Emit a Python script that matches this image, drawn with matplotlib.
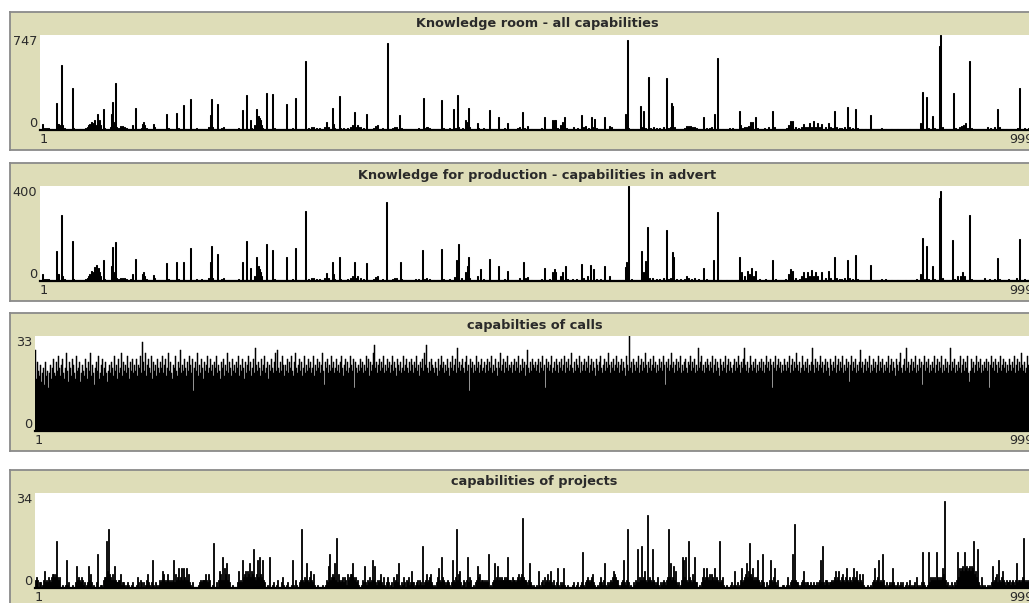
import numpy as np
import matplotlib.pyplot as plt

W, H = 1029, 603
N_BINS = 999

titles = [
    "Knowledge room - all capabilities",
    "Knowledge for production - capabilities in advert",
    "capabilties of calls",
    "capabilities of projects",
]
y_max = [747, 400, 33, 34]

# (capability, count) - only non-empty bins are listed
room_counts = [
    (3, 48), (5, 16), (7, 16), (9, 16), (12, 8), (17, 209), (18, 50), (19, 50), (20, 40), (22, 509),
    (23, 40), (25, 16), (33, 329), (34, 16), (40, 8), (42, 8), (44, 8), (46, 16), (48, 24), (49, 40),
    (50, 48), (52, 60), (53, 56), (55, 80), (57, 40), (58, 123), (59, 60), (60, 80), (61, 40), (64, 163),
    (65, 16), (71, 24), (72, 123), (73, 222), (74, 60), (76, 369), (77, 24), (79, 16), (81, 30), (83, 30),
    (85, 24), (87, 16), (89, 8), (93, 40), (96, 174), (98, 8), (103, 16), (104, 48), (105, 60), (106, 40),
    (108, 16), (115, 48), (116, 24), (118, 8), (128, 128), (130, 16), (133, 8), (138, 134), (140, 16), (145, 193),
    (147, 8), (152, 241), (154, 8), (158, 16), (161, 8), (163, 8), (166, 8), (170, 24), (172, 115), (173, 241),
    (174, 24), (176, 8), (179, 201), (180, 8), (183, 16), (185, 24), (187, 8), (190, 8), (195, 8), (200, 16),
    (204, 155), (206, 8), (208, 276), (209, 8), (212, 80), (213, 16), (216, 40), (218, 163), (219, 60), (220, 107),
    (221, 96), (222, 80), (223, 40), (224, 16), (228, 294), (230, 8), (234, 284), (236, 16), (240, 8), (245, 8),
    (248, 201), (249, 8), (251, 8), (254, 16), (257, 249), (258, 8), (263, 8), (267, 543), (270, 16), (273, 24),
    (275, 24), (278, 16), (281, 16), (286, 24), (288, 62), (290, 24), (294, 174), (295, 48), (296, 16), (300, 8),
    (302, 265), (303, 16), (306, 16), (310, 16), (313, 24), (315, 40), (317, 139), (318, 24), (320, 40), (321, 24),
    (323, 24), (326, 16), (329, 126), (331, 8), (336, 16), (338, 32), (340, 40), (343, 8), (345, 16), (347, 8),
    (350, 688), (352, 8), (355, 16), (357, 24), (359, 24), (362, 120), (364, 16), (368, 8), (373, 8), (378, 8),
    (381, 16), (386, 249), (387, 16), (389, 24), (390, 24), (392, 16), (396, 8), (400, 8), (404, 233), (406, 16),
    (408, 8), (412, 16), (416, 169), (418, 16), (420, 276), (421, 24), (425, 16), (428, 80), (430, 60), (431, 174),
    (432, 24), (437, 8), (440, 54), (441, 16), (446, 16), (448, 8), (452, 155), (454, 8), (458, 8), (461, 102),
    (463, 8), (467, 16), (470, 54), (471, 8), (476, 8), (480, 16), (482, 24), (485, 139), (487, 16), (490, 35),
    (494, 8), (500, 8), (505, 16), (508, 102), (510, 8), (513, 8), (516, 75), (518, 80), (519, 80), (521, 16),
    (524, 40), (526, 60), (528, 99), (530, 16), (533, 8), (537, 24), (541, 16), (545, 120), (547, 24), (549, 35),
    (552, 16), (555, 102), (556, 24), (558, 86), (560, 16), (564, 8), (568, 99), (570, 8), (573, 35), (575, 24),
    (577, 8), (582, 8), (586, 8), (589, 126), (590, 120), (591, 707), (592, 16), (596, 8), (601, 8), (604, 185),
    (605, 24), (607, 147), (609, 16), (612, 418), (614, 16), (617, 24), (620, 16), (623, 16), (627, 24), (630, 407),
    (632, 16), (634, 24), (635, 214), (636, 187), (638, 24), (641, 8), (645, 8), (648, 16), (650, 32), (652, 35),
    (654, 32), (656, 24), (658, 24), (660, 16), (663, 8), (667, 99), (670, 16), (673, 16), (675, 24), (678, 126),
    (681, 567), (683, 8), (686, 8), (690, 8), (693, 16), (696, 16), (699, 8), (704, 147), (705, 40), (707, 16),
    (709, 24), (711, 24), (713, 30), (715, 62), (717, 62), (720, 99), (722, 16), (725, 8), (729, 16), (733, 24),
    (737, 147), (739, 24), (743, 8), (747, 8), (751, 16), (753, 40), (755, 72), (757, 72), (760, 24), (763, 16),
    (766, 24), (768, 46), (770, 24), (772, 24), (774, 54), (776, 24), (778, 67), (780, 24), (782, 54), (784, 24),
    (786, 46), (790, 24), (793, 54), (795, 24), (797, 16), (799, 147), (801, 24), (804, 16), (806, 16), (809, 24),
    (812, 182), (814, 24), (817, 16), (820, 166), (822, 16), (826, 8), (830, 8), (835, 120), (837, 8), (842, 8),
    (846, 16), (850, 8), (856, 8), (862, 8), (874, 8), (881, 8), (885, 54), (887, 300), (889, 8), (891, 260),
    (893, 16), (897, 107), (899, 16), (905, 661), (906, 747), (908, 24), (911, 8), (915, 8), (919, 289), (921, 16),
    (925, 24), (927, 32), (929, 40), (931, 54), (933, 16), (935, 541), (937, 16), (940, 8), (944, 8), (949, 8),
    (953, 24), (956, 16), (960, 24), (963, 169), (965, 24), (968, 8), (972, 8), (976, 8), (980, 8), (983, 16),
    (985, 329), (987, 8), (990, 16), (994, 16), (997, 8),
]

advert_counts = [
    (3, 29), (5, 9), (7, 9), (9, 9), (12, 4), (17, 126), (18, 29), (19, 29), (22, 279), (23, 20),
    (25, 9), (33, 169), (34, 9), (40, 4), (44, 4), (46, 9), (48, 13), (49, 20), (50, 29), (52, 43),
    (53, 40), (55, 57), (56, 40), (57, 69), (58, 50), (59, 54), (60, 40), (61, 20), (64, 89), (65, 9),
    (72, 64), (73, 143), (74, 40), (76, 164), (77, 13), (79, 9), (81, 14), (83, 14), (85, 13), (87, 9),
    (91, 9), (93, 29), (96, 94), (98, 4), (104, 29), (105, 36), (106, 20), (108, 9), (115, 26), (116, 13),
    (128, 74), (130, 9), (138, 80), (140, 9), (145, 80), (147, 4), (152, 137), (154, 4), (158, 9), (161, 4),
    (163, 9), (166, 4), (170, 13), (172, 80), (173, 149), (174, 13), (176, 4), (179, 114), (180, 4), (183, 9),
    (185, 13), (190, 4), (200, 9), (204, 80), (206, 4), (208, 169), (209, 4), (212, 54), (216, 20), (218, 100),
    (219, 40), (220, 64), (221, 51), (222, 40), (223, 20), (228, 154), (230, 4), (234, 130), (236, 9), (240, 4),
    (248, 103), (249, 4), (254, 9), (257, 139), (258, 4), (267, 293), (270, 9), (273, 13), (275, 13), (278, 9),
    (281, 9), (286, 13), (288, 33), (290, 13), (294, 80), (295, 29), (296, 9), (302, 103), (303, 9), (310, 9),
    (313, 13), (315, 20), (317, 80), (318, 13), (320, 20), (323, 13), (326, 9), (329, 74), (331, 4), (336, 9),
    (338, 16), (340, 20), (345, 9), (349, 333), (352, 4), (355, 9), (357, 13), (359, 13), (363, 80), (364, 9),
    (368, 4), (373, 4), (378, 9), (381, 9), (385, 130), (387, 9), (389, 13), (392, 9), (396, 4), (400, 4),
    (404, 134), (406, 9), (412, 9), (417, 16), (419, 90), (421, 154), (424, 13), (428, 40), (430, 64), (431, 99),
    (432, 13), (437, 4), (440, 20), (443, 51), (446, 9), (452, 94), (454, 4), (458, 4), (461, 64), (463, 4),
    (467, 9), (470, 43), (474, 4), (478, 4), (482, 13), (486, 79), (488, 13), (490, 16), (494, 4), (500, 4),
    (505, 9), (508, 54), (510, 4), (513, 9), (516, 36), (518, 50), (519, 40), (524, 20), (526, 36), (529, 64),
    (531, 9), (536, 9), (540, 9), (545, 73), (547, 13), (551, 20), (554, 69), (557, 50), (560, 9), (564, 9),
    (568, 64), (570, 4), (573, 20), (577, 4), (582, 4), (586, 4), (589, 60), (590, 80), (592, 400), (595, 9),
    (600, 4), (605, 126), (607, 40), (609, 86), (611, 229), (613, 13), (616, 13), (620, 9), (623, 9), (627, 13),
    (630, 214), (632, 9), (634, 13), (636, 123), (637, 100), (640, 9), (644, 9), (648, 9), (650, 20), (652, 13),
    (655, 9), (658, 13), (662, 9), (667, 54), (670, 9), (673, 4), (677, 90), (681, 289), (684, 4), (690, 4),
    (695, 4), (699, 4), (704, 99), (706, 40), (709, 20), (712, 43), (714, 30), (716, 54), (718, 20), (720, 43),
    (724, 9), (730, 9), (737, 90), (740, 9), (745, 4), (750, 9), (753, 29), (755, 51), (757, 43), (760, 13),
    (764, 9), (766, 20), (768, 40), (770, 13), (772, 36), (774, 20), (776, 46), (778, 20), (780, 36), (782, 20),
    (786, 40), (790, 13), (793, 43), (795, 13), (799, 103), (801, 13), (804, 9), (806, 9), (809, 13), (812, 90),
    (814, 13), (817, 9), (820, 109), (822, 9), (826, 4), (835, 69), (837, 4), (841, 4), (846, 9), (850, 9),
    (856, 4), (862, 4), (870, 4), (876, 4), (881, 9), (885, 29), (887, 179), (889, 9), (891, 147), (893, 9),
    (897, 64), (899, 9), (905, 348), (906, 379), (908, 13), (912, 4), (918, 174), (920, 9), (923, 20), (926, 20),
    (928, 36), (930, 20), (935, 279), (937, 9), (941, 4), (946, 4), (950, 13), (955, 9), (960, 9), (963, 97),
    (965, 9), (969, 4), (974, 9), (978, 4), (982, 13), (985, 176), (987, 4), (990, 9), (995, 9), (998, 4),
]

# every capability 1..999 in order, 25 per line
calls_counts = """
28 18 24 21 19 23 17 20 22 16 24 19 21 15 20 23 18 22 25 20 19 24 21 26 22
19 23 25 20 18 22 27 21 17 24 22 19 25 23 20 18 26 21 22 24 17 20 23 21 19
25 22 18 24 21 27 19 23 20 16 22 24 21 26 18 20 23 25 19 22 24 20 17 21 23
20 24 22 19 26 21 23 18 25 20 22 27 19 24 21 23 20 26 22 18 24 21 25 20 23
21 25 19 23 22 26 20 31 24 21 27 19 23 25 22 20 26 18 24 21 23 19 25 22 20
24 22 26 20 23 25 19 22 27 21 24 20 18 23 22 26 21 19 24 22 28 20 23 21 25
22 19 24 21 26 23 20 25 14 22 24 21 27 19 23 20 25 22 18 24 21 23 26 20 22
25 21 23 19 24 22 26 20 23 21 18 24 22 25 19 23 21 27 20 24 22 19 25 21 23
20 24 22 26 19 23 21 25 22 18 24 20 23 26 21 24 19 22 25 20 29 23 21 24 22
19 25 21 23 26 20 22 24 18 23 21 25 22 20 24 27 21 28 22 20 24 21 26 23 19
23 21 25 20 24 22 26 21 19 24 27 22 20 23 25 21 24 19 22 26 20 23 21 25 22
24 20 22 26 19 23 21 25 22 24 20 23 27 21 16 24 22 25 20 23 21 26 22 24 20
22 25 21 23 20 24 26 22 19 23 25 21 24 20 22 26 23 21 25 15 24 22 20 23 21
25 22 24 20 23 21 26 22 25 19 24 21 23 27 30 22 24 20 23 25 21 24 22 26 20
23 21 25 22 24 20 23 26 21 24 22 19 25 23 21 24 20 22 26 21 23 25 22 20 24
21 25 23 20 24 22 26 21 23 19 24 22 25 21 27 23 30 22 20 24 21 25 23 22 20
24 22 19 25 21 23 26 22 24 20 23 21 25 22 19 24 22 26 21 23 25 20 29 22 24
21 23 25 22 20 24 26 21 23 14 25 22 24 20 23 21 26 22 24 20 23 25 21 22 24
20 23 25 21 24 22 26 20 23 21 25 22 19 24 22 27 21 23 25 20 24 22 26 21 23
22 24 20 23 25 21 24 22 26 20 23 21 25 22 24 19 23 28 22 20 24 21 25 23 22
24 21 23 25 20 24 22 26 21 23 15 25 22 24 21 23 26 20 22 24 21 25 23 20 24
22 25 21 23 26 20 24 22 25 21 23 27 22 20 24 21 25 23 22 26 20 24 21 23 25
21 24 22 26 20 23 25 21 24 22 19 25 23 21 24 26 22 20 23 25 21 24 22 27 23
20 24 22 25 21 23 26 22 24 20 23 25 21 24 22 19 26 23 21 33 22 24 20 25 23
21 24 22 26 20 23 25 21 24 22 27 23 20 24 22 25 21 23 26 22 24 20 23 21 25
22 24 21 26 23 16 24 22 25 21 23 27 22 24 20 23 25 21 24 22 26 20 23 21 24
25 22 20 24 23 26 21 24 22 25 20 23 21 29 22 24 26 21 23 20 24 22 25 23 21
24 22 26 20 23 25 21 24 22 19 25 23 21 24 22 26 20 23 25 21 24 22 20 23 25
21 24 22 26 23 20 24 22 25 29 23 21 24 20 22 26 23 21 24 22 25 20 23 21 24
22 25 21 24 20 23 26 22 24 21 25 23 15 24 22 26 21 23 25 22 24 20 23 21 25
23 21 24 22 26 20 23 25 21 24 22 27 23 21 24 20 22 26 23 21 24 22 25 20 23
21 24 29 23 20 25 22 24 21 23 26 22 24 20 23 25 21 24 22 19 25 23 21 24 22
26 20 23 25 21 24 22 26 20 23 21 25 22 24 17 23 26 21 24 22 25 20 23 21 24
28 22 24 20 23 25 21 24 22 26 20 23 21 25 22 24 20 23 26 21 24 22 25 20 23
21 24 22 26 20 23 25 21 24 22 19 25 23 21 24 27 22 20 23 25 21 29 22 24 20
23 25 21 24 22 26 20 23 21 25 22 24 16 23 26 21 24 22 25 20 23 21 24 22 26
20 23 25 21 24 22 26 20 23 21 25 22 24 20 23 29 21 24 22 25 20 23 21 24 22
26 20 23 25 21 24 22 26 20 17 21 25 22 24 20 23 26 21 24 22 25 20 23 21 24
22 25 21 24 15 23 26 22 24 21 25 23 20 24 22 26 21 23 25 22 24 20 23 21 25
23 21 24 22 26 20 23 25 21 24 22 27 23 21 24 20 22 26 23 21 24 22 25 20
"""

projects_counts = """
3 4 3 0 2 2 0 1 3 6 2 3 2 4 3 2 4 5 5 4 5 17 4 3 4
0 0 1 0 0 1 10 1 2 0 0 0 1 0 0 2 8 3 4 3 2 4 3 1 2
0 1 2 8 3 5 2 0 1 0 0 2 12 0 0 1 1 0 3 4 4 17 6 21 5
4 3 5 3 8 3 2 2 3 3 5 1 2 2 1 0 1 2 1 0 0 1 2 0 0
0 1 4 2 0 3 2 0 2 0 1 3 5 2 1 0 2 10 1 0 2 1 0 1 3
2 3 6 5 3 2 3 5 3 2 3 2 3 10 2 5 3 4 7 3 4 7 3 7 4
3 7 3 5 2 1 0 2 0 0 0 0 0 1 2 3 2 3 3 3 5 3 2 5 3
0 0 1 16 0 0 2 0 3 6 5 3 11 3 7 5 9 3 5 2 0 0 1 0 0
0 0 2 6 2 3 2 10 4 5 6 4 6 5 9 4 6 5 14 4 3 5 10 4 11
5 4 10 3 2 0 0 1 0 11 0 0 1 2 0 0 1 3 0 0 0 2 4 1 0
0 1 2 0 0 0 1 10 1 0 3 1 0 0 2 3 21 3 2 4 3 9 3 2 4
6 3 2 5 1 0 0 1 0 0 0 0 1 0 0 1 3 2 8 12 3 4 5 4 9
3 18 2 5 3 2 3 4 2 4 3 1 5 3 4 5 5 9 4 3 4 2 3 1 0
0 1 3 2 8 2 1 3 2 4 2 3 10 3 8 2 1 3 2 3 5 2 1 4 1
0 2 4 2 0 1 2 0 4 2 3 5 2 9 1 0 2 1 4 2 0 3 2 4 1
2 6 2 2 0 1 2 3 1 3 2 1 15 1 2 3 5 2 3 4 5 2 1 0 1
0 2 4 7 3 2 11 4 3 2 1 2 3 2 1 0 2 10 3 2 4 21 3 5 6
2 0 1 3 2 0 3 11 2 4 3 0 0 1 0 2 3 8 4 5 2 3 3 2 3
2 3 2 12 0 1 0 2 3 9 3 4 8 3 4 3 4 3 3 4 3 4 11 3 3
3 2 4 3 3 2 3 4 5 3 4 5 25 4 3 3 2 1 3 9 2 1 0 1 0
0 1 0 6 1 0 2 3 1 4 2 3 5 2 3 6 2 1 3 1 0 2 7 1 0
2 1 2 7 1 0 0 1 0 0 0 0 1 2 0 0 1 2 0 0 1 2 13 1 0
2 3 4 3 2 3 4 5 2 1 0 0 1 0 2 4 2 1 3 9 1 0 2 1 2
3 2 4 6 5 4 3 3 1 0 1 2 3 10 2 1 3 21 2 0 1 0 0 2 1
3 2 14 2 4 3 15 3 4 6 3 2 26 3 4 3 2 14 3 2 1 2 4 1 0
2 1 2 3 2 1 3 4 21 4 9 3 4 8 3 6 2 1 2 0 1 3 11 10 4
11 3 2 17 4 3 2 5 3 11 2 2 0 0 1 0 2 4 7 3 4 7 4 3 5
3 5 4 3 7 3 4 3 2 17 2 3 4 1 0 0 1 0 0 0 1 2 0 1 6
1 0 2 0 1 3 7 2 3 4 5 9 4 6 16 5 4 7 3 4 3 4 10 3 2
1 3 12 2 0 0 2 0 1 3 10 3 2 4 7 2 1 3 0 0 0 0 1 1 0
0 1 4 1 0 2 3 12 3 23 3 2 2 1 0 1 2 3 6 2 1 2 2 1 1
2 1 1 2 1 1 2 1 2 3 10 2 15 2 1 3 3 2 1 2 2 3 2 3 4
6 3 4 6 3 2 4 5 3 2 4 7 3 2 4 3 2 4 7 3 4 6 3 2 5
3 2 5 1 0 0 0 1 0 0 1 0 2 3 7 2 3 4 10 2 3 2 12 3 1
0 2 0 1 2 1 2 7 2 1 0 1 2 0 1 2 1 2 0 0 1 2 0 1 3
0 1 0 1 2 0 4 1 0 1 0 2 13 2 1 0 0 1 13 2 4 3 4 3 4
3 13 4 3 4 3 4 7 5 31 3 1 2 0 1 0 2 1 0 2 1 3 13 4 7
6 7 8 6 13 7 8 6 7 8 6 8 7 17 5 6 4 14 2 1 0 4 1 0 1
0 0 1 0 1 0 2 8 2 3 4 5 2 10 3 2 4 6 3 2 1 3 2 2 3
1 2 3 2 1 3 9 2 3 3 2 3 4 18 3 2 3 2 3 2 3 2 1 2
"""


def from_pairs(pairs):
    counts = np.zeros(N_BINS)
    for cap, n in pairs:
        counts[cap - 1] = n
    return counts


def from_text(text):
    counts = np.array([int(v) for v in text.split()], dtype=float)
    assert len(counts) == N_BINS, len(counts)
    return counts


series = [from_pairs(room_counts), from_pairs(advert_counts),
          from_text(calls_counts), from_text(projects_counts)]

# pixel layout of the four plot widgets
frame_top = [12, 163, 313, 470]
plot_left = [40, 40, 35, 35]
bar_edge = [0.75, 0.75, 0.35, 0.6]
plot_right = 1034
BEIGE = "#deddb8"
TXT = "#2a2a2a"


def box(x0, y0, x1, y1):
    return [x0 / W, 1 - y1 / H, (x1 - x0) / W, (y1 - y0) / H]


fig = plt.figure(figsize=(W / 100, H / 100), dpi=100)
fig.patch.set_facecolor("white")

caps = np.arange(1, N_BINS + 1)
for k in range(4):
    ft = frame_top[k]
    pl = plot_left[k]

    frame = fig.add_axes(box(10, ft, 1050, ft + 138))
    frame.set_facecolor(BEIGE)
    frame.set_xticks([])
    frame.set_yticks([])
    for s in frame.spines.values():
        s.set_color("#8a8a8a")
        s.set_linewidth(1.3)

    ax = fig.add_axes(box(pl, ft + 23, plot_right, ft + 118))
    ax.set_facecolor("white")
    ax.bar(caps, series[k], width=1.0, color="black", edgecolor="black", linewidth=bar_edge[k])
    ax.axhline(0, color="black", lw=1.6, clip_on=False)
    ax.set_xlim(0.5, N_BINS + 0.5)
    ax.set_ylim(0, y_max[k])
    ax.set_xticks([])
    ax.set_yticks([])
    for s in ax.spines.values():
        s.set_visible(False)

    fig.text((pl + plot_right) / 2 / W, 1 - (ft + 12) / H, titles[k],
             ha="center", va="center", fontsize=9.3, fontweight="bold", color=TXT)
    fig.text((pl - 3) / W, 1 - (ft + 23) / H, str(y_max[k]),
             ha="right", va="top", fontsize=9.3, color=TXT)
    fig.text((pl - 3) / W, 1 - (ft + 118) / H, "0",
             ha="right", va="bottom", fontsize=9.3, color=TXT)
    fig.text(pl / W, 1 - (ft + 121) / H, "1",
             ha="left", va="top", fontsize=9.3, color=TXT)
    # the plot runs past the right edge of the window, so this label is clipped
    fig.text(plot_right / W, 1 - (ft + 121) / H, "999",
             ha="right", va="top", fontsize=9.3, color=TXT)

fig.savefig("out.png", dpi=100, facecolor=fig.get_facecolor())
